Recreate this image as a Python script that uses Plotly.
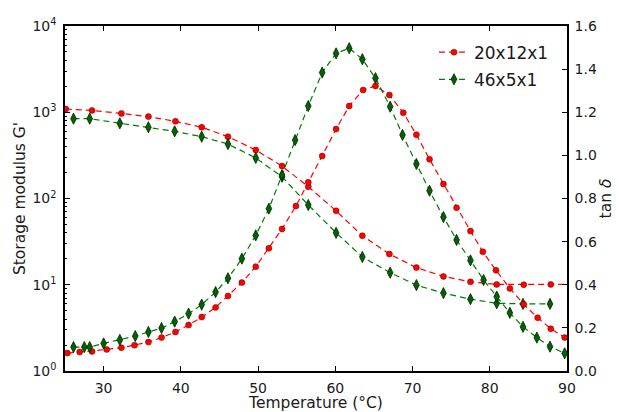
import plotly.graph_objects as go

# --- data ---
T_red_G = [25.1, 28.5, 32.3, 35.8, 39.3, 42.7, 46.1, 49.7, 53.1, 56.5, 60.1, 63.5, 67.0, 70.5, 74.0, 77.5, 80.9, 84.4, 87.9, 91.4]
G_red = [1090, 1050, 970, 890, 785, 670, 521, 365, 238, 137, 72, 37, 22.7, 15.8, 12.5, 10.8, 10.1, 10.0, 10.1, 10.1]

T_green_G = [26.1, 28.2, 32.1, 35.8, 39.2, 42.7, 46.1, 49.7, 53.1, 56.5, 60.1, 63.5, 67.1, 70.5, 74.0, 77.5, 80.9, 84.3, 87.8]
G_green = [842, 842, 745, 670, 601, 521, 428, 295, 179, 84, 40, 21, 13.8, 9.9, 8.0, 6.8, 6.1, 6.0, 6.0]

T_red_tan = [25.3, 26.9, 28.5, 30.4, 32.3, 34.0, 35.8, 37.5, 39.3, 41.0, 42.7, 44.5, 46.1, 47.9, 49.7,
             51.4, 53.1, 54.9, 56.5, 58.3, 60.1, 61.8, 63.6, 65.2, 67.0, 68.8, 70.5, 72.2, 74.0, 75.7,
             77.5, 79.1, 80.8, 82.6, 84.4, 86.2, 87.9, 89.7]
tan_red = [0.083, 0.088, 0.091, 0.100, 0.108, 0.120, 0.134, 0.155, 0.181, 0.213, 0.250, 0.295, 0.348, 0.410, 0.484,
           0.569, 0.659, 0.765, 0.875, 0.997, 1.122, 1.229, 1.303, 1.322, 1.280, 1.198, 1.096, 0.982, 0.867, 0.757,
           0.649, 0.553, 0.467, 0.383, 0.309, 0.247, 0.196, 0.155]

T_green_tan = [26.1, 27.5, 28.2, 30.0, 32.1, 34.1, 35.8, 37.5, 39.2, 41.0, 42.7, 44.5, 46.1, 47.9, 49.7,
               51.4, 53.1, 54.8, 56.5, 58.3, 60.1, 61.8, 63.5, 65.2, 67.1, 68.7, 70.5, 72.2, 74.0, 75.7,
               77.5, 79.2, 80.9, 82.6, 84.3, 86.1, 87.8, 89.7]
tan_green = [0.111, 0.111, 0.111, 0.128, 0.144, 0.162, 0.181, 0.199, 0.229, 0.266, 0.308, 0.366, 0.430, 0.521, 0.629,
             0.753, 0.909, 1.071, 1.229, 1.384, 1.473, 1.497, 1.446, 1.358, 1.226, 1.095, 0.960, 0.836, 0.714, 0.608,
             0.513, 0.422, 0.345, 0.270, 0.205, 0.155, 0.113, 0.082]

series_names = ["20x12x1", "46x5x1"]
x_ticks = [30, 40, 50, 60, 70, 80, 90]
y_log_ticks = [1, 10, 100, 1000, 10000]
y_log_labels = ["10<sup>0</sup>", "10<sup>1</sup>", "10<sup>2</sup>", "10<sup>3</sup>", "10<sup>4</sup>"]
y2_ticks = [0.0, 0.2, 0.4, 0.6, 0.8, 1.0, 1.2, 1.4, 1.6]

RED = "#ff0000"
GREEN = "#007a00"
DASH = "6px,4px"
FONT = "DejaVu Sans"
TXT = "#1a1a1a"
TITLE_SIZE = 15.5

red_marker = dict(symbol="circle", size=6, color=RED, line=dict(color="#660000", width=0.5))
green_marker = dict(symbol="diamond-tall", size=8, color="#006400", line=dict(color="#002000", width=0.8))

fig = go.Figure()
fig.add_trace(go.Scatter(x=T_red_G, y=G_red, mode="lines+markers", name=series_names[0],
                         line=dict(color=RED, width=1.2, dash=DASH), marker=red_marker,
                         legendgroup="r", showlegend=True, yaxis="y", cliponaxis=True))
fig.add_trace(go.Scatter(x=T_green_G, y=G_green, mode="lines+markers", name=series_names[1],
                         line=dict(color=GREEN, width=1.2, dash=DASH), marker=green_marker,
                         legendgroup="g", showlegend=True, yaxis="y", cliponaxis=True))
fig.add_trace(go.Scatter(x=T_red_tan, y=tan_red, mode="lines+markers", name=series_names[0],
                         line=dict(color=RED, width=1.2, dash=DASH), marker=red_marker,
                         legendgroup="r", showlegend=False, yaxis="y2", cliponaxis=True))
fig.add_trace(go.Scatter(x=T_green_tan, y=tan_green, mode="lines+markers", name=series_names[1],
                         line=dict(color=GREEN, width=1.2, dash=DASH), marker=green_marker,
                         legendgroup="g", showlegend=False, yaxis="y2", cliponaxis=True))

minor_log = [m * 10 ** k for k in range(0, 4) for m in range(2, 10)]

fig.update_layout(
    width=619, height=412,
    margin=dict(l=65, r=52, t=26, b=41),
    paper_bgcolor="white", plot_bgcolor="white",
    font=dict(family=FONT, size=14, color=TXT),
    showlegend=True,
    legend=dict(x=0.735, y=0.975, xanchor="left", yanchor="top",
                font=dict(size=17, family=FONT, color=TXT),
                bgcolor="rgba(255,255,255,0)", borderwidth=0, tracegroupgap=2),
    xaxis=dict(range=[25, 90], tickvals=x_ticks, ticks="inside", ticklen=5, tickwidth=1,
               tickcolor="black", showline=True, linecolor="black", linewidth=1.5,
               mirror="ticks", showgrid=False, zeroline=False, automargin=False,
               ticklabelstandoff=3,
               title=dict(text="Temperature (°C)", font=dict(size=TITLE_SIZE), standoff=4),
               tickfont=dict(size=14)),
    yaxis=dict(type="log", range=[0, 4], tickvals=y_log_ticks, ticktext=y_log_labels,
               ticks="inside", ticklen=5, tickwidth=1, tickcolor="black", automargin=False,
               showline=True, linecolor="black", linewidth=1.5, showgrid=False, zeroline=False,
               ticklabelstandoff=4,
               minor=dict(tickvals=minor_log, ticks="inside", ticklen=2.5, tickcolor="black",
                          tickwidth=0.8, showgrid=False),
               title=dict(text="Storage modulus G'", font=dict(size=TITLE_SIZE), standoff=3),
               tickfont=dict(size=14)),
    yaxis2=dict(overlaying="y", side="right", range=[0, 1.6], tickvals=y2_ticks, tickformat=".1f",
                ticks="inside", ticklen=5, tickwidth=1, tickcolor="black", automargin=False,
                showline=True, linecolor="black", linewidth=1.5, showgrid=False, zeroline=False,
                ticklabelstandoff=3,
                title=dict(text="tan <i>δ</i>", font=dict(size=TITLE_SIZE), standoff=3),
                tickfont=dict(size=14)),
)

fig.write_html("out.html")
